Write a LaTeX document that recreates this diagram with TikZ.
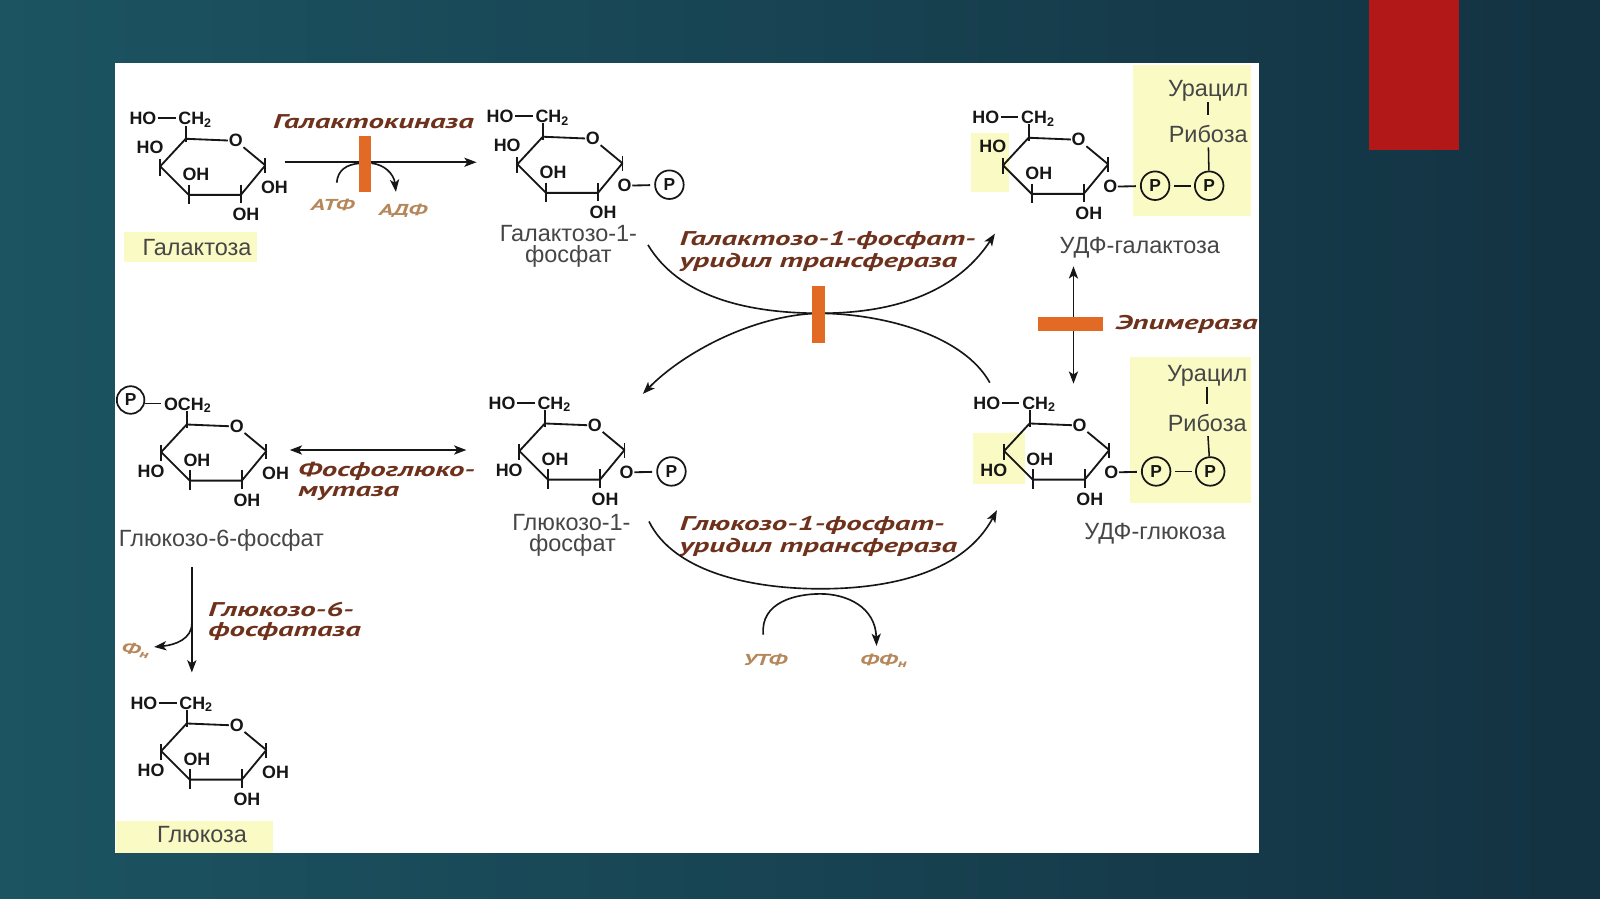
\documentclass[tikz,border=0pt]{standalone}
\usepackage{fontspec}
\setmainfont{Liberation Sans}
\newfontfamily\enzfont[FakeStretch=1.55]{PT Sans}
\usetikzlibrary{arrows.meta}
\definecolor{bgA}{RGB}{28,84,98}
\definecolor{bgB}{RGB}{19,50,66}
\definecolor{redbox}{RGB}{178,24,24}
\definecolor{hilite}{RGB}{250,250,196}
\definecolor{enzbrown}{RGB}{110,50,28}
\definecolor{cofac}{RGB}{182,135,90}
\definecolor{barorange}{RGB}{226,106,36}
\definecolor{labgray}{RGB}{70,70,70}
\definecolor{ink}{RGB}{22,22,22}
\tikzset{
 bond/.style={line width=1.8pt, draw=ink, line join=round},
 thinbond/.style={line width=1.5pt, draw=ink},
 atom/.style={inner sep=0.6pt, font=\fontsize{17.5}{17.5}\selectfont\bfseries, text=ink},
 pcirc/.style={circle, draw=ink, line width=1.7pt, inner sep=0pt, minimum size=28pt, font=\fontsize{17}{17}\selectfont\bfseries, text=ink},
 lab/.style={inner sep=0pt, font=\fontsize{23}{25}\selectfont, text=labgray},
 enz/.style={inner sep=0pt, font=\enzfont\fontsize{19.5}{21}\selectfont\bfseries\itshape, text=enzbrown},
 cof/.style={inner sep=0pt, font=\enzfont\fontsize{15.5}{16}\selectfont\bfseries\itshape, text=cofac},
 rxn/.style={line width=1.6pt, draw=ink},
 arrowend/.style={-{Stealth[length=12pt,width=9pt,inset=3pt]}},
 arrowboth/.style={{Stealth[length=12pt,width=9pt,inset=3pt]}-{Stealth[length=12pt,width=9pt,inset=3pt]}},
 ebar/.style={rectangle, fill=barorange, draw=none, inner sep=0pt},
 hl/.style={fill=hilite, draw=none},
}
% ring: #1 prefix, #2 position of C5, #3 substituents
\newcommand{\sugarring}[3]{%
\begin{scope}[shift={#2}]
\coordinate (#1c5) at (0,0);
\node[atom] (#1o5) at (49,2) {O};
\coordinate (#1c1) at (78,26);
\coordinate (#1c2) at (54,55);
\coordinate (#1c3) at (3,55);
\coordinate (#1c4) at (-25,27);
\draw[bond] (#1o5) -- (#1c1) -- (#1c2) -- (#1c3) -- (#1c4) -- (#1c5) -- (#1o5);
\draw[bond] (0,3) -- (0,-13);
\draw[bond] (-25,20) -- (-25,36);
\draw[bond] (3,45) -- (3,64);
\draw[bond] (54,45) -- (54,63);
\draw[bond] (78,19) -- (78,34);
\node[atom] (#1oh3) at (10,35) {OH};
\node[atom] (#1oh2) at (59,74) {OH};
#3
\end{scope}}
\newcommand{\hochtop}[1]{%
\node[atom,anchor=base east] (#1ho6) at (-28,-14) {HO};
\draw[bond] (-27,-20) -- (-10,-20);
\node[atom,anchor=base west] (#1ch2) at (-8,-14) {CH\textsubscript{2}};}
\newcommand{\pochtop}[1]{%
\node[pcirc,minimum size=27pt] (#1p6) at (-55,-24) {P};
\draw[bond] (-41,-20.5) -- (-25,-20.5);
\node[atom,anchor=base west] (#1och2) at (-23,-14) {OCH\textsubscript{2}};}
\newcommand{\houp}[1]{\node[atom] (#1ho4) at (-35,8) {HO};}
\newcommand{\hodown}[1]{\node[atom] (#1ho4) at (-35,46) {HO};}
\newcommand{\ohright}[1]{\node[atom] (#1oh1) at (87,48) {OH};}
\newcommand{\ophos}[1]{%
\node[atom] (#1o1) at (80,48) {O};
\node[pcirc] (#1p1) at (124,47) {P};
\draw[bond,shorten >=4pt] (#1o1) -- (#1p1);}
\newcommand{\udptail}[1]{%
\ophos{#1}
\node[pcirc] (#1p2) at (177,47) {P};
\draw[bond,shorten <=4pt,shorten >=3pt] (#1p1) -- (#1p2);}

\begin{document}
\begin{tikzpicture}[x=1pt,y=-1pt]
\useasboundingbox (0,0) rectangle (1568,881);
\shade[left color=bgA, right color=bgB] (0,0) rectangle (1568,881);
\fill[redbox] (1342,0) rectangle (1430,147);
\fill[white] (113,61.5) rectangle (1234,836);
% highlights
\fill[hl] (122,227) rectangle (252,257);
\fill[hl] (114,805) rectangle (268,836);
\fill[hl] (1110,64) rectangle (1226,212);
\fill[hl] (952,130) rectangle (989,188);
\fill[hl] (1107,350) rectangle (1226,493);
\fill[hl] (954,424) rectangle (1004,474);

% structures
\sugarring{gal}{(182,136)}{\hochtop{gal}\houp{gal}\ohright{gal}}
\sugarring{galp}{(532,134)}{\hochtop{galp}\houp{galp}\ophos{galp}}
\sugarring{udpgal}{(1008,135)}{\hochtop{udpgal}\houp{udpgal}\udptail{udpgal}}
\sugarring{gsp}{(183,416)}{\pochtop{gsp}\hodown{gsp}\ohright{gsp}}
\sugarring{gop}{(534,415)}{\hochtop{gop}\hodown{gop}\ophos{gop}}
\sugarring{udpglc}{(1009,415)}{\hochtop{udpglc}\hodown{udpglc}\udptail{udpglc}}
\sugarring{glc}{(183,709)}{\hochtop{glc}\hodown{glc}\ohright{glc}}

% uracil / ribose
\node[lab,anchor=base] (ura1) at (1184,95) {Урацил};
\node[lab,anchor=base] (rib1) at (1184,140) {Рибоза};
\draw[thinbond,shorten >=10pt] (ura1) -- (rib1);
\draw[thinbond,shorten <=4pt] (rib1) -- (udpgalp2);
\node[lab,anchor=base] (ura2) at (1183,374) {Урацил};
\node[lab,anchor=base] (rib2) at (1183,423) {Рибоза};
\draw[thinbond,shorten >=10pt] (ura2) -- (rib2);
\draw[thinbond,shorten <=4pt] (rib2) -- (udpglcp2);

% names
\node[lab,anchor=base] (galname) at (193,250) {Галактоза};
\node[lab,anchor=base] (galpname1) at (557,237) {Галактозо-1-};
\node[lab,anchor=base] (galpname2) at (557,257) {фосфат};
\node[lab,anchor=base] (udpgalname) at (1117,248) {УДФ-галактоза};
\node[lab,anchor=base] (gspname) at (217,536) {Глюкозо-6-фосфат};
\node[lab,anchor=base] (gopname1) at (560,520) {Глюкозо-1-};
\node[lab,anchor=base] (gopname2) at (561,540) {фосфат};
\node[lab,anchor=base] (udpglcname) at (1132,529) {УДФ-глюкоза};
\node[lab,anchor=base] (glcname) at (198,826) {Глюкоза};

% enzymes
\node[enz,anchor=base] (galk) at (366,126) {Галактокиназа};
\node[enz,anchor=base west] (gput1) at (666,241) {Галактозо-1-фосфат-};
\node[enz,anchor=base west] (gput2) at (666,262) {уридил трансфераза};
\node[enz,anchor=base west] (epi) at (1093,323) {Эпимераза};
\node[enz,anchor=base west] (pgm1) at (292,467) {Фосфоглюко-};
\node[enz,anchor=base west] (pgm2) at (292,487) {мутаза};
\node[enz,anchor=base west] (ugp1) at (666,519.5) {Глюкозо-1-фосфат-};
\node[enz,anchor=base west] (ugp2) at (666,541) {уридил трансфераза};
\node[enz,anchor=base west] (gsph1) at (204,604) {Глюкозо-6-};
\node[enz,anchor=base west] (gsph2) at (204,624) {фосфатаза};

% cofactors
\node[cof,anchor=base] (atp) at (326,206) {АТФ};
\node[cof,anchor=base] (adp) at (395,211) {АДФ};
\node[cof,anchor=base] (utp) at (750,652) {УТФ};
\node[cof,anchor=base] (ppi) at (866,652) {ФФ\textsubscript{н}};
\node[cof,rotate=-10] (pin) at (133,637) {Ф\textsubscript{н}};

% galactokinase
\coordinate (gks) at (279,159);
\coordinate (gke) at (467,159);
\coordinate (atps) at (330,179);
\coordinate (atpe) at (353,160);
\coordinate (adps) at (364,160);
\coordinate (adpe) at (388,188);
\draw[rxn,arrowend] (gks) -- (gke);
\draw[rxn] (atps) .. controls (331,167) and (339,161) .. (atpe);
\draw[rxn,arrowend] (adps) .. controls (376,161) and (386,170) .. (adpe);
\node[ebar,minimum width=12pt,minimum height=55pt] (gkbar) at (358,161) {};

% gal-1-P uridyltransferase
\coordinate (ua1) at (635,240);
\coordinate (umid) at (804,307);
\coordinate (ua2) at (975,229);
\coordinate (lb1) at (970,375);
\coordinate (lb2) at (630,386);
\draw[rxn,arrowend] (ua1) .. controls (665,290) and (730,307) .. (umid) .. controls (870,307) and (935,290) .. (ua2);
\draw[rxn,arrowend] (lb1) .. controls (945,330) and (870,308) .. (umid) .. controls (740,308) and (670,345) .. (lb2);
\node[ebar,minimum width=12pt,minimum height=56pt] (gputbar) at (802,308) {};

% epimerase
\coordinate (epit) at (1052,261);
\coordinate (epib) at (1052,376);
\draw[rxn,arrowboth] (epit) -- (epib);
\node[ebar,minimum width=64pt,minimum height=13pt] (epibar) at (1049,317.5) {};

% phosphoglucomutase
\coordinate (pgml) at (284,441);
\coordinate (pgmr) at (457,441);
\draw[rxn,arrowboth] (pgml) -- (pgmr);

% glc-1-P uridyltransferase
\coordinate (ug1) at (636,511);
\coordinate (ugmid) at (804,577);
\coordinate (ug2) at (977,500);
\draw[rxn,arrowend] (ug1) .. controls (660,560) and (735,577) .. (ugmid) .. controls (875,577) and (945,560) .. (ug2);
\coordinate (utps) at (748,622);
\coordinate (utpm) at (804,582);
\coordinate (utpe) at (859,633);
\draw[rxn,arrowend] (utps) .. controls (745,590) and (780,582) .. (utpm) .. controls (830,582) and (858,595) .. (utpe);

% glucose-6-phosphatase
\coordinate (gpt) at (188,556);
\coordinate (gpb) at (188,659);
\coordinate (gpm) at (188,611);
\coordinate (gpi) at (151,634);
\draw[rxn,arrowend] (gpt) -- (gpb);
\draw[rxn,arrowend] (gpm) .. controls (188,626) and (172,632) .. (gpi);
\end{tikzpicture}
\end{document}
